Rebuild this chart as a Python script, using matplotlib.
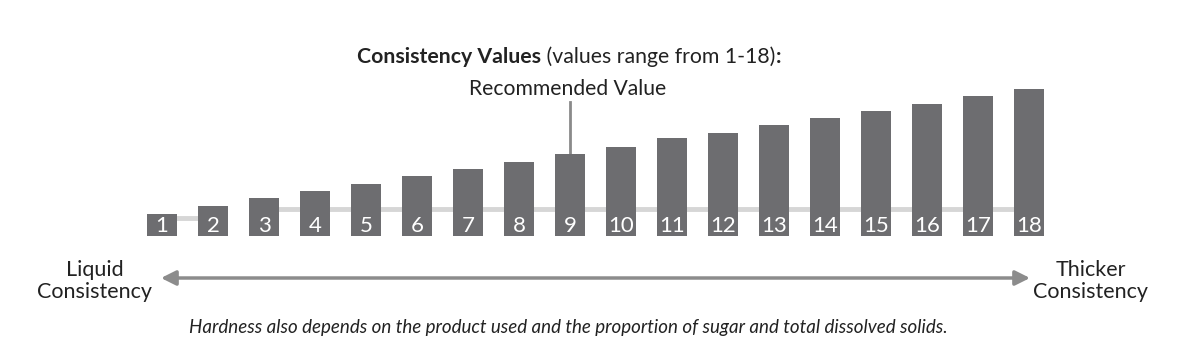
import numpy as np
import matplotlib.pyplot as plt
from matplotlib.offsetbox import TextArea, HPacker, AnnotationBbox

plt.rcParams['font.family'] = ['Lato', 'DejaVu Sans']

# consistency scale 1..18, bar heights
levels = list(range(1, 19))
heights = [22, 30, 38, 45, 52, 60, 67, 74, 82, 89, 98, 103, 111, 118, 125, 132, 140, 147]
recommended = 9

title_bold = "Consistency Values"
title_rest = " (values range from 1-18)"
left_label = "Liquid\nConsistency"
right_label = "Thicker\nConsistency"
note = ("Hardness also depends on the product used and the proportion "
        "of sugar and total dissolved solids.")

W, H = 1185, 347
fig = plt.figure(figsize=(W / 100, H / 100), dpi=100)

# overlay axes in pixel coordinates for the annotations
over = fig.add_axes([0, 0, 1, 1])
over.set_xlim(0, W)
over.set_ylim(H, 0)
over.axis('off')

# bar axes: x=1 at 162px, 51px per step; y baseline at 236px, 1 unit = 1px
ax = fig.add_axes([136.5 / W, (H - 236) / H, 918 / W, 150 / H])
ax.set_xlim(0.5, 18.5)
ax.set_ylim(0, 150)
ax.axis('off')

bar_col = '#6d6d70'
txt_col = '#222222'
# faint connecting line behind the bars
ax.plot([1, 2], [18, 18], color='#d6d6d6', lw=3.5, zorder=1,
        solid_capstyle='butt')
ax.plot([3, 18], [27, 27], color='#d6d6d6', lw=3.5, zorder=1,
        solid_capstyle='butt')
ax.bar(levels, heights, width=30 / 51, color=bar_col, zorder=2)
for lv in levels:
    ax.text(lv, 10.5, str(lv), color='white', fontsize=16, ha='center',
            va='center', zorder=3)

# recommended marker
rec_h = heights[levels.index(recommended)]
ax.plot([recommended, recommended], [rec_h, 134], color='#8a8a8a', lw=2,
        zorder=1, clip_on=False)
over.text(568, 89, "Recommended Value", fontsize=15.2, ha='center',
          va='center', color=txt_col)

# title with mixed weights
parts = [TextArea(title_bold, textprops=dict(fontsize=15.3, fontweight='bold',
                                            color=txt_col)),
         TextArea(title_rest, textprops=dict(fontsize=15.3, color=txt_col)),
         TextArea(":", textprops=dict(fontsize=15.3, fontweight='bold',
                                      color=txt_col))]
box = HPacker(children=parts, align='baseline', pad=0, sep=0)
ab = AnnotationBbox(box, (569, 57), xycoords='data', frameon=False,
                    box_alignment=(0.5, 0.5))
over.add_artist(ab)

# direction arrow
over.annotate("", xy=(1030, 278), xytext=(161, 278),
              arrowprops=dict(arrowstyle='<|-|>', color='#8c8c8c', lw=2.5,
                              mutation_scale=22, shrinkA=0, shrinkB=0))
over.text(95, 281, left_label, fontsize=15.5, ha='center', va='center',
          color=txt_col, linespacing=1.18)
over.text(1091, 281, right_label, fontsize=15.5, ha='center', va='center',
          color=txt_col, linespacing=1.18)

over.text(568, 328, note, fontsize=13.5, style='italic', ha='center',
          va='center', color=txt_col)

fig.savefig('out.png', dpi=100, facecolor='white')
